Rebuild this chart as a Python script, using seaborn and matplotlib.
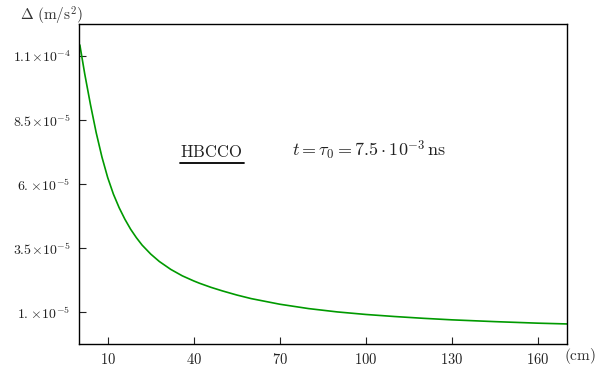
import pandas as pd
import seaborn as sns
import matplotlib.pyplot as plt
from matplotlib.lines import Line2D

# curve: distance (cm) vs Delta (m/s^2)
dist = [0.3, 2, 4, 6, 8, 10, 12, 14, 16, 18, 20, 22, 25, 28, 32, 36, 40, 42, 46,
        50, 55, 60, 70, 80, 90, 100, 110, 120, 130, 145, 160, 170]
delta = [1.143e-4, 1.03e-4, 9.1e-5, 8.0e-5, 7.05e-5, 6.25e-5, 5.6e-5, 5.07e-5,
         4.62e-5, 4.23e-5, 3.9e-5, 3.61e-5, 3.26e-5, 2.97e-5, 2.66e-5, 2.41e-5,
         2.21e-5, 2.12e-5, 1.96e-5, 1.82e-5, 1.66e-5, 1.52e-5, 1.3e-5, 1.13e-5,
         1.0e-5, 0.9e-5, 0.82e-5, 0.75e-5, 0.69e-5, 0.62e-5, 0.56e-5, 0.53e-5]

xticks = [10, 40, 70, 100, 130, 160]
yticks = [1e-5, 3.5e-5, 6e-5, 8.5e-5, 1.1e-4]
ylabels = [r'$1.\!\times\!10^{-5}$', r'$3.5\!\times\!10^{-5}$', r'$6.\!\times\!10^{-5}$',
           r'$8.5\!\times\!10^{-5}$', r'$1.1\!\times\!10^{-4}$']

df = pd.DataFrame({'r': dist, 'delta': delta})

sns.set_style('ticks')
plt.rcParams['font.family'] = ['DejaVu Serif']
plt.rcParams['mathtext.fontset'] = 'cm'

fig = plt.figure(figsize=(6.03, 3.69), dpi=100)
ax = fig.add_axes([0.131, 0.068, 0.809, 0.867])
sns.lineplot(data=df, x='r', y='delta', color='#009a00', linewidth=1.2, ax=ax)

ax.set_xlim(0, 170)
ax.set_ylim(-2.5e-6, 1.225e-4)
ax.set_xticks(xticks)
ax.set_xticklabels([rf'${t}$' for t in xticks], fontsize=10.5)
ax.set_yticks(yticks)
ax.set_yticklabels(ylabels, fontsize=10)
ax.tick_params(direction='in', length=5, width=0.8, colors='#222222', pad=6)
for s in ax.spines.values():
    s.set_linewidth(1.0)
    s.set_color('black')
ax.set_xlabel('')
ax.set_ylabel('')

fig.text(0.033, 0.945, r'$\Delta\ (\mathrm{m/s^2})$', fontsize=11, color='#333333')
fig.text(0.935, 0.025, r'$(\mathrm{cm})$', fontsize=11, color='#333333')

ax.text(0.208, 0.585, r'$\mathrm{HBCCO}$', transform=ax.transAxes, fontsize=12, color='#222222')
ax.add_line(Line2D([0.208, 0.338], [0.565, 0.565], transform=ax.transAxes,
                   color='black', linewidth=1.3))
ax.text(0.436, 0.585, r'$t=\tau_0=7.5\cdot10^{-3}\,\mathrm{ns}$', transform=ax.transAxes,
        fontsize=13, color='#222222')

plt.savefig('out.png', dpi=100)
